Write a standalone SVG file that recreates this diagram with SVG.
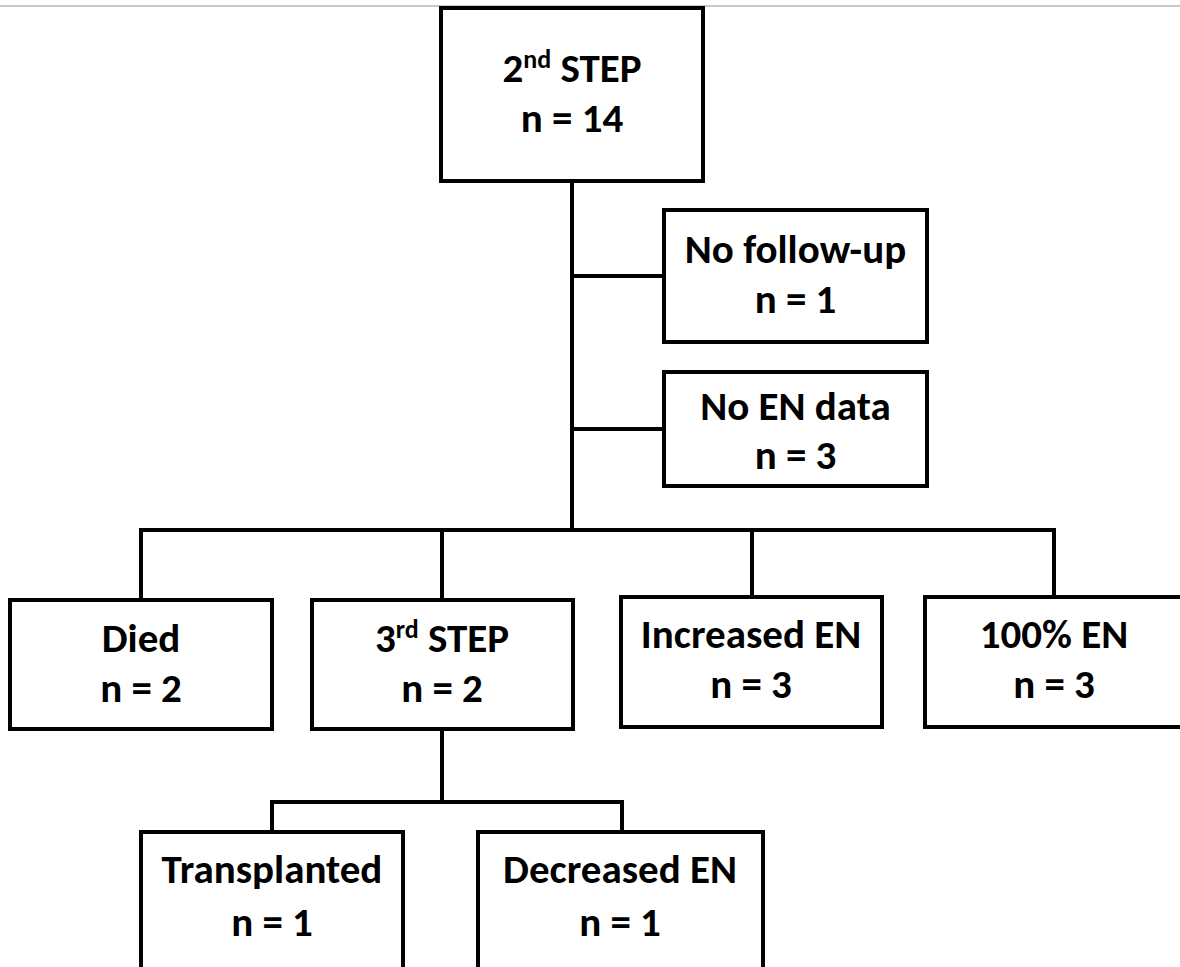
<svg xmlns="http://www.w3.org/2000/svg" width="1180" height="967" viewBox="0 0 1180 967">
<style>
.box{fill:#fff;stroke:#000;stroke-width:4}
.ln{fill:none;stroke:#000;stroke-width:4;stroke-linecap:square;stroke-linejoin:miter}
.t{font-family:Carlito,Lato,"Liberation Sans",sans-serif;font-weight:bold;font-size:41px;fill:#000;text-anchor:middle}
.sup{font-size:26px}
</style>
<rect width="1180" height="967" fill="#fff"/>
<line x1="0" y1="6" x2="1180" y2="6" stroke="#c8c8c8" stroke-width="2"/>
<g id="connectors">
<path class="ln" d="M572,181 V530"/>
<path class="ln" d="M572,276 H664"/>
<path class="ln" d="M572,429 H664"/>
<path class="ln" d="M141,598 V530 H1054 V597"/>
<path class="ln" d="M442,530 V600"/>
<path class="ln" d="M752,530 V597"/>
<path class="ln" d="M442,729 V802"/>
<path class="ln" d="M272,832 V802 H622 V832"/>
</g>
<g id="step2">
<rect class="box" x="441" y="8" width="262" height="173"/>
<text class="t" x="572" y="82">2<tspan class="sup" dy="-14">nd</tspan><tspan dy="14"> STEP</tspan></text>
<text class="t" x="572" y="132">n = 14</text>
</g>
<g id="nofollowup">
<rect class="box" x="664" y="210" width="263" height="132"/>
<text class="t" x="795.5" y="263">No follow-up</text>
<text class="t" x="795.5" y="313">n = 1</text>
</g>
<g id="noendata">
<rect class="box" x="664" y="372" width="263" height="114"/>
<text class="t" x="795.5" y="420">No EN data</text>
<text class="t" x="795.5" y="469">n = 3</text>
</g>
<g id="died">
<rect class="box" x="10" y="600" width="262" height="129"/>
<text class="t" x="141" y="652">Died</text>
<text class="t" x="141" y="702">n = 2</text>
</g>
<g id="step3">
<rect class="box" x="312" y="600" width="261" height="129"/>
<text class="t" x="442" y="652">3<tspan class="sup" dy="-14">rd</tspan><tspan dy="14"> STEP</tspan></text>
<text class="t" x="442" y="702">n = 2</text>
</g>
<g id="increased">
<rect class="box" x="621" y="597" width="261" height="130"/>
<text class="t" x="751" y="648">Increased EN</text>
<text class="t" x="751" y="698">n = 3</text>
</g>
<g id="full">
<rect class="box" x="925" y="597" width="258" height="130"/>
<text class="t" x="1054" y="648">100% EN</text>
<text class="t" x="1054" y="698">n = 3</text>
</g>
<g id="transplanted">
<rect class="box" x="141" y="832" width="262" height="150"/>
<text class="t" x="272" y="883">Transplanted</text>
<text class="t" x="272" y="936">n = 1</text>
</g>
<g id="decreased">
<rect class="box" x="478" y="832" width="285" height="150"/>
<text class="t" x="620" y="883">Decreased EN</text>
<text class="t" x="620" y="936">n = 1</text>
</g>
</svg>
